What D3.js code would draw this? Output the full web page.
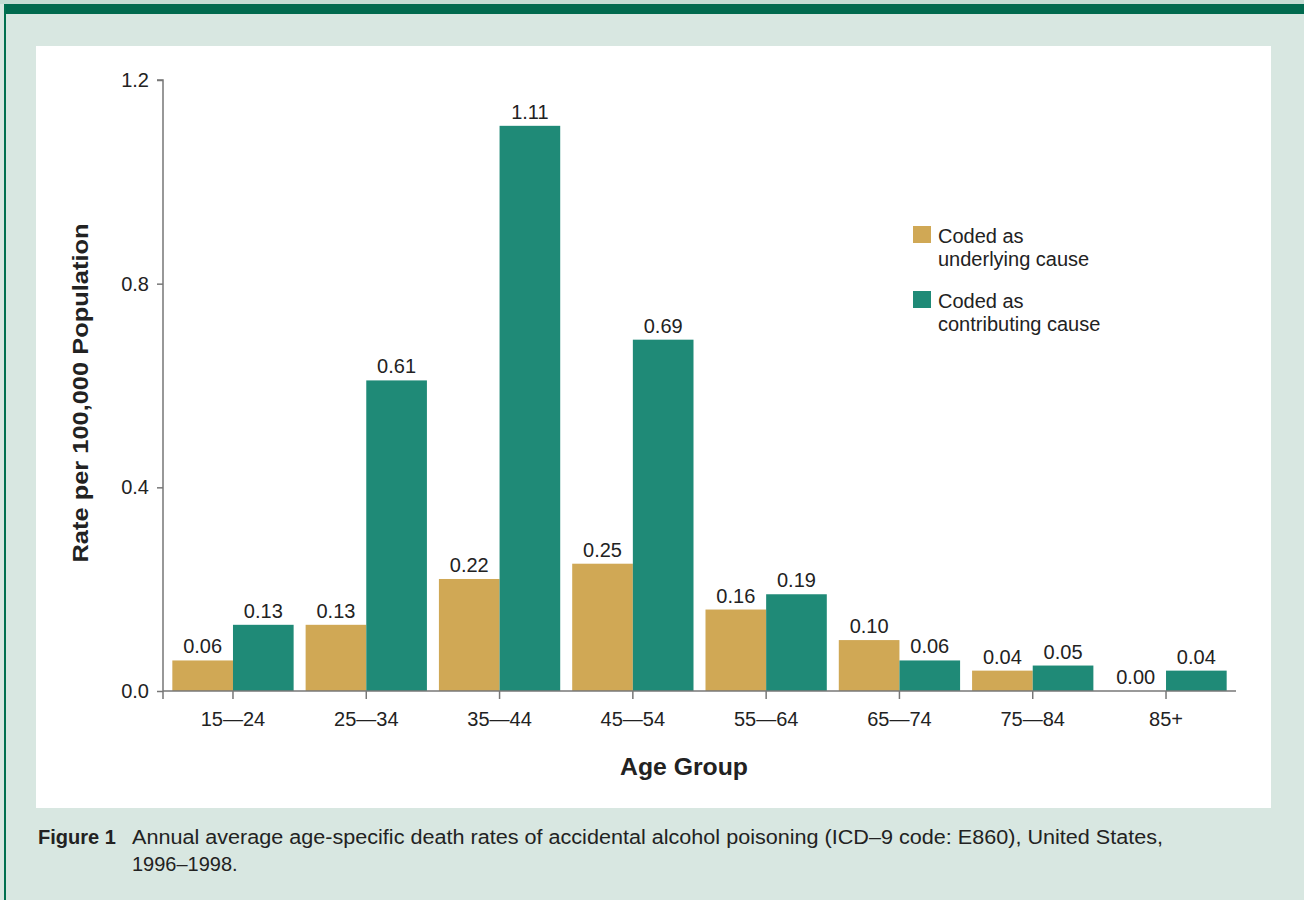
<!DOCTYPE html>
<html>
<head>
<meta charset="utf-8">
<script src="https://cdn.jsdelivr.net/npm/d3@7"></script>
<style>
  html, body { margin: 0; padding: 0; background: #d8e7e1; }
  svg { display: block; font-family: "Liberation Sans", Arial, Helvetica, sans-serif; }
</style>
</head>
<body>
<svg id="chart" width="1304" height="900"></svg>
<script>
const categories = ["15\u201424", "25\u201434", "35\u201444", "45\u201454", "55\u201464", "65\u201474", "75\u201484", "85+"];
const underlying = [0.06, 0.13, 0.22, 0.25, 0.16, 0.10, 0.04, 0.00];
const contributing = [0.13, 0.61, 1.11, 0.69, 0.19, 0.06, 0.05, 0.04];
const yTicks = [0.0, 0.4, 0.8, 1.2];
const legendLines = [["Coded as", "underlying cause"], ["Coded as", "contributing cause"]];

const colors = { underlying: "#d0a855", contributing: "#1f8a77" };
const FONT = "Liberation Sans, Arial, sans-serif";
const svg = d3.select("#chart");

// frame
svg.append("rect").attr("x", 0).attr("y", 0).attr("width", 1304).attr("height", 900).attr("fill", "#d8e7e1");
svg.append("rect").attr("x", 0).attr("y", 0).attr("width", 1304).attr("height", 4).attr("fill", "#c4dcd3");
svg.append("rect").attr("x", 4).attr("y", 4).attr("width", 1300).attr("height", 10).attr("fill", "#006a4e");
svg.append("rect").attr("x", 4).attr("y", 4).attr("width", 2).attr("height", 896).attr("fill", "#00704f");
svg.append("rect").attr("x", 36).attr("y", 46).attr("width", 1235).attr("height", 762).attr("fill", "#ffffff");

const x0 = 163, x1 = 1236, yBase = 691, yTop = 80;
const x = d3.scaleBand().domain(categories).range([x0, x1]).paddingInner(0.09).paddingOuter(0.07);
const xs = d3.scaleBand().domain(["u", "c"]).range([0, x.bandwidth()]);
const y = d3.scaleLinear().domain([0, 1.2]).range([yBase, yTop]);

// bars
const data = categories.map((c, i) => ({ c, u: underlying[i], v: contributing[i] }));
const grp = svg.append("g").selectAll("g.grp").data(data).join("g").attr("class", "grp")
  .attr("transform", d => `translate(${x(d.c)},0)`);
grp.append("rect").attr("x", xs("u")).attr("width", xs.bandwidth())
  .attr("y", d => y(d.u)).attr("height", d => yBase - y(d.u)).attr("fill", colors.underlying);
grp.append("rect").attr("x", xs("c")).attr("width", xs.bandwidth())
  .attr("y", d => y(d.v)).attr("height", d => yBase - y(d.v)).attr("fill", colors.contributing);
grp.append("text").attr("x", xs("u") + xs.bandwidth() / 2).attr("y", d => y(d.u) - 7)
  .attr("text-anchor", "middle").attr("font-size", 20).attr("fill", "#222")
  .text(d => d.u.toFixed(2));
grp.append("text").attr("x", xs("c") + xs.bandwidth() / 2).attr("y", d => y(d.v) - 7)
  .attr("text-anchor", "middle").attr("font-size", 20).attr("fill", "#222")
  .text(d => d.v.toFixed(2));

// y axis
const yAxis = d3.axisLeft(y).tickValues(yTicks).tickFormat(d3.format(".1f")).tickSize(6).tickPadding(8);
const ya = svg.append("g").attr("transform", `translate(${x0},0)`).call(yAxis);
ya.select(".domain").attr("stroke", "#777").attr("stroke-width", 1.5).attr("d", `M-6,${yTop}H0V${yBase + 8}`);
ya.selectAll(".tick line").attr("stroke", "#777").attr("stroke-width", 1.5);
ya.selectAll(".tick text").attr("font-size", 20).attr("fill", "#222").attr("font-family", FONT);

// x axis
const xAxis = d3.axisBottom(x).tickSize(8).tickPadding(13).tickSizeOuter(0);
const xa = svg.append("g").attr("transform", `translate(0,${yBase})`).call(xAxis);
xa.select(".domain").attr("stroke", "#777").attr("stroke-width", 1.5).attr("d", `M${x0},0H${x1}`);
xa.selectAll(".tick line").attr("stroke", "#777").attr("stroke-width", 1.5);
xa.selectAll(".tick text").attr("font-size", 20).attr("fill", "#222").attr("font-family", FONT);

// axis titles
svg.append("text").attr("transform", "translate(88,393) rotate(-90)").attr("text-anchor", "middle")
  .attr("font-size", 22).attr("font-weight", "bold").attr("fill", "#222")
  .attr("textLength", 339).attr("lengthAdjust", "spacingAndGlyphs")
  .text("Rate per 100,000 Population");
svg.append("text").attr("x", 684).attr("y", 775).attr("text-anchor", "middle")
  .attr("font-size", 23).attr("font-weight", "bold").attr("fill", "#222")
  .attr("textLength", 128).attr("lengthAdjust", "spacingAndGlyphs")
  .text("Age Group");

// legend
const legend = [
  { lines: legendLines[0], color: colors.underlying, y: 226 },
  { lines: legendLines[1], color: colors.contributing, y: 291 }
];
const lg = svg.append("g").selectAll("g").data(legend).join("g");
lg.append("rect").attr("x", 913).attr("y", d => d.y).attr("width", 18).attr("height", 17).attr("fill", d => d.color);
lg.each(function(d) {
  const t = d3.select(this).append("text").attr("font-size", 20).attr("fill", "#222");
  d.lines.forEach((l, i) => t.append("tspan").attr("x", 938).attr("y", d.y + 17 + i * 22.5).text(l));
});

// caption
svg.append("text").attr("x", 38).attr("y", 844).attr("font-size", 20).attr("font-weight", "bold")
  .attr("fill", "#222").text("Figure 1");
svg.append("text").attr("x", 132).attr("y", 844).attr("font-size", 20).attr("fill", "#222")
  .attr("textLength", 1031).attr("lengthAdjust", "spacingAndGlyphs")
  .text("Annual average age-specific death rates of accidental alcohol poisoning  (ICD\u20139 code: E860), United States,");
svg.append("text").attr("x", 132).attr("y", 871).attr("font-size", 20).attr("fill", "#222")
  .text("1996\u20131998.");
</script>
</body>
</html>
